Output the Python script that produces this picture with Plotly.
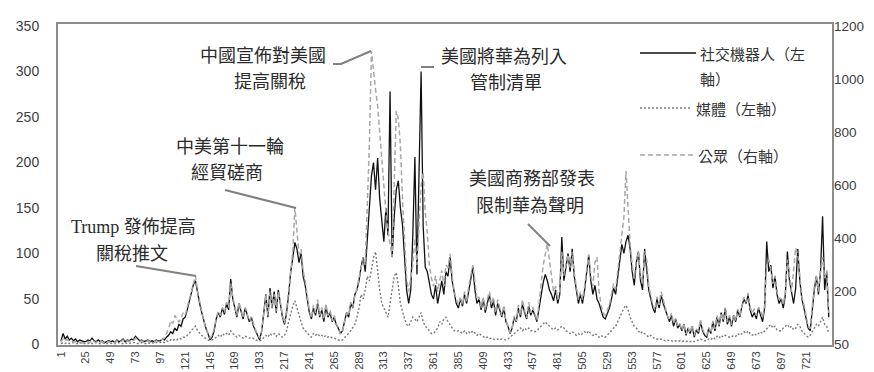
import plotly.graph_objects as go

days = list(range(1, 744, 2))  # day index 1..743
x_ticks = list(range(1, 722, 24))

bots = [
    4,12,6,9,5,7,4,6,3,5,4,3,
    3,5,4,7,4,3,5,3,4,2,3,4,
    3,4,2,5,3,4,6,3,5,4,6,5,
    9,6,4,5,3,4,5,3,4,3,5,4,
    4,6,5,8,10,14,12,18,15,22,20,28,
    30,38,48,58,66,70,55,45,35,25,18,12,
    5,8,15,28,35,30,40,33,45,38,72,50,
    40,30,45,35,28,40,32,25,30,20,15,10,
    5,15,35,55,30,62,40,58,35,60,45,30,
    22,35,55,80,95,112,105,90,100,75,65,50,
    35,28,40,32,45,30,38,25,42,30,35,25,
    30,22,18,12,15,25,35,30,45,40,55,60,
    70,85,96,80,110,150,185,200,170,205,160,140,
    113,150,120,278,96,140,170,180,150,132,90,60,
    45,60,120,206,77,180,300,130,85,80,65,55,
    50,65,45,60,70,55,80,75,96,70,55,45,
    40,50,42,55,45,60,70,85,60,45,50,38,
    50,35,45,55,40,48,32,45,38,30,40,25,
    20,12,18,30,25,40,30,45,35,28,42,32,
    38,30,25,40,55,68,77,70,60,55,48,60,
    45,55,118,70,85,100,80,105,75,60,45,55,
    45,60,80,98,70,55,65,50,45,38,30,28,
    35,40,50,62,55,75,95,110,100,113,120,105,
    80,65,90,102,70,60,105,80,60,50,40,35,
    50,40,54,45,38,30,25,32,20,28,18,22,
    15,22,10,18,12,20,8,16,12,25,15,10,
    8,18,12,25,15,30,20,35,25,40,22,30,
    20,32,25,38,30,42,50,45,54,38,30,35,
    28,40,32,25,40,113,80,87,62,75,55,45,
    50,40,54,102,70,55,45,62,105,70,50,40,
    30,18,15,40,60,75,55,80,141,60,80,30,
]

media = [
    1,2,1,2,1,1,2,1,1,2,1,1,
    1,1,2,1,1,2,1,1,1,2,1,1,
    1,2,1,1,2,1,1,2,1,1,2,2,
    2,1,1,2,1,1,2,1,2,1,2,2,
    2,3,2,4,3,5,4,6,5,7,6,8,
    8,10,12,15,18,20,15,12,10,8,6,5,
    4,5,6,8,10,8,12,10,12,10,15,12,
    10,8,10,8,7,9,8,7,8,6,5,4,
    4,5,8,10,8,12,10,12,9,12,10,8,
    10,15,25,35,42,48,40,30,25,18,15,12,
    10,8,12,10,12,9,10,8,10,8,9,7,
    7,6,5,4,5,8,10,12,15,18,22,30,
    40,55,50,60,75,70,85,95,102,80,60,45,
    40,35,30,45,60,75,79,65,45,35,28,22,
    20,25,30,28,25,30,35,25,20,18,15,12,
    12,15,18,25,22,28,30,25,22,18,15,14,
    15,14,12,15,12,14,12,15,12,10,12,10,
    8,7,8,6,7,6,5,6,5,6,5,5,
    6,8,10,12,14,16,18,15,18,16,18,15,
    15,14,15,18,20,22,25,22,20,18,16,18,
    16,18,20,18,15,14,12,14,12,10,12,10,
    12,14,12,15,12,10,12,10,8,10,8,8,
    10,12,15,18,20,25,30,35,40,43,38,30,
    25,20,18,15,12,14,12,10,8,10,8,6,
    6,5,6,5,4,5,4,4,3,4,3,4,
    3,4,3,4,3,4,3,4,5,6,5,4,
    4,6,5,8,6,9,7,10,8,10,9,8,
    8,10,9,12,10,12,14,12,15,12,10,12,
    10,12,14,12,15,18,20,22,18,20,16,15,
    15,18,20,22,18,20,16,18,22,20,15,12,
    10,8,10,14,18,22,20,25,30,22,20,12,
]

public = [
    10,25,15,20,12,15,10,12,8,10,8,6,
    8,12,10,18,12,8,15,10,12,6,10,12,
    8,12,6,15,10,12,18,10,15,12,18,15,
    25,18,12,15,10,12,15,10,12,10,15,12,
    15,20,25,45,60,90,80,110,95,85,100,120,
    110,140,170,200,235,260,200,160,120,90,60,45,
    25,35,60,100,125,110,140,120,160,140,230,180,
    140,110,160,130,100,140,115,90,105,75,55,40,
    25,55,120,190,110,200,140,190,125,200,160,110,
    80,130,200,280,350,515,430,340,360,280,240,190,
    130,100,150,120,170,110,140,95,155,110,130,90,
    110,80,60,40,50,85,120,110,160,140,190,210,
    250,300,330,300,500,750,1105,1020,960,900,800,700,
    580,500,430,380,330,600,880,850,750,550,400,250,
    200,250,300,400,300,450,600,650,500,420,300,250,
    220,260,200,240,280,220,300,290,342,260,200,170,
    150,180,150,200,160,220,260,300,240,170,180,140,
    180,130,170,200,150,180,120,170,140,110,150,90,
    70,45,65,110,90,150,110,170,130,100,160,120,
    140,110,90,160,230,300,340,380,320,250,200,220,
    170,200,350,260,300,340,290,350,270,220,170,200,
    170,220,280,340,260,220,310,330,200,150,120,110,
    130,150,190,230,210,280,350,420,480,654,500,380,
    300,250,320,350,260,230,353,320,220,180,150,130,
    180,150,200,170,140,110,95,120,80,100,70,80,
    55,80,40,65,45,75,35,60,50,95,60,40,
    35,65,45,90,60,110,75,120,90,140,85,110,
    75,115,90,135,110,150,180,160,195,140,120,135,
    110,140,130,100,150,300,320,280,230,260,200,170,
    180,150,200,320,250,200,280,365,340,250,180,150,
    110,70,60,150,220,260,200,280,330,250,280,120,
]

left_ticks = [0, 50, 100, 150, 200, 250, 300, 350]
right_tickvals = [0, 200, 400, 600, 800, 1000, 1200]
right_ticktext = ["50", "200", "400", "600", "800", "1000", "1200"]

series_names = ["社交機器人（左軸）", "媒體（左軸）", "公眾（右軸）"]

events = [
    ["Trump 發佈提高", "關稅推文"],
    ["中美第十一輪", "經貿磋商"],
    ["中國宣佈對美國", "提高關稅"],
    ["美國將華為列入", "管制清單"],
    ["美國商務部發表", "限制華為聲明"],
]

# ---------------- layout helpers ----------------
W, H = 874, 372
L, R, T, B = 50, 50, 16, 35
PW, PH = W - L - R, H - T - B


def px(x):
    return (x - L) / PW


def py(y):
    return (H - B - y) / PH


fig = go.Figure()
fig.add_trace(go.Scatter(x=days, y=bots, mode="lines", name=series_names[0],
                         line=dict(color="#111111", width=1.3)))
fig.add_trace(go.Scatter(x=days, y=media, mode="lines", name=series_names[1],
                         line=dict(color="#7a7a7a", width=1.4, dash="2px,2px")))
fig.add_trace(go.Scatter(x=days, y=public, mode="lines", name=series_names[2], yaxis="y2",
                         line=dict(color="#a8a8a8", width=1.5, dash="5px,3px")))

tickfont = dict(family="Liberation Sans, Arial, sans-serif", size=14, color="#404040")
fig.update_layout(
    width=W, height=H,
    margin=dict(l=L, r=R, t=T, b=B, pad=0, autoexpand=False),
    paper_bgcolor="white", plot_bgcolor="white",
    showlegend=False,
    xaxis=dict(range=[-1.9, 746.1], tickmode="array", tickvals=x_ticks,
               ticktext=[str(v) for v in x_ticks], tickangle=-90, automargin=False,
               tickfont=dict(family="Liberation Sans, Arial, sans-serif", size=11, color="#404040"),
               showgrid=False, zeroline=False, showline=True, mirror=True,
               linecolor="#8c8c8c", linewidth=2, ticks="", ticklabelstandoff=0),
    yaxis=dict(range=[-0.6, 352.2], tickmode="array", tickvals=left_ticks, automargin=False,
               tickfont=tickfont, showgrid=False, zeroline=False, showline=True, mirror=True,
               linecolor="#8c8c8c", linewidth=2, ticks="", ticklabelstandoff=14),
    yaxis2=dict(range=[-1, 1207], overlaying="y", side="right", tickmode="array",
                tickvals=right_tickvals, ticktext=right_ticktext, automargin=False,
                tickfont=dict(family="Liberation Sans, Arial, sans-serif", size=13.5, color="#404040"),
                showgrid=False, zeroline=False, showline=False, ticks="", ticklabelstandoff=1),
)

ann_font = dict(family="Liberation Serif, Noto Sans CJK TC, serif", size=18, color="#2b2b2b")
ann_pos = [
    [(125, 219), (124, 246)],
    [(222, 139), (219, 165)],
    [(255, 48), (262, 74)],
    [(496, 49), (498, 75)],
    [(524, 171), (522, 198)],
]
for lines, pos in zip(events, ann_pos):
    for text, (xx, yy) in zip(lines, pos):
        fig.add_annotation(x=px(xx), y=py(yy), xref="paper", yref="paper", text=text,
                           showarrow=False, xanchor="center", yanchor="middle", font=ann_font)

connectors = [
    [(128, 258), (188, 268)],
    [(217, 182), (288, 200)],
    [(325, 56), (333, 56), (363, 43)],
    [(413, 59), (426, 59)],
    [(520, 216), (542, 238)],
]
for pts in connectors:
    path = "M " + " L ".join(f"{px(a):.5f},{py(b):.5f}" for a, b in pts)
    fig.add_shape(type="path", path=path, xref="paper", yref="paper",
                  line=dict(color="#808080", width=2))

# legend drawn manually
leg_font = dict(family="Noto Sans CJK TC, sans-serif", size=15, color="#333333")
fig.add_shape(type="line", xref="paper", yref="paper", x0=px(632), x1=px(688), y0=py(45), y1=py(45),
              line=dict(color="#111111", width=1.3))
fig.add_shape(type="line", xref="paper", yref="paper", x0=px(632), x1=px(683), y0=py(100), y1=py(100),
              line=dict(color="#7a7a7a", width=1.4, dash="2px,2px"))
fig.add_shape(type="line", xref="paper", yref="paper", x0=px(632), x1=px(688), y0=py(147), y1=py(147),
              line=dict(color="#a8a8a8", width=1.5, dash="5px,3px"))
legend_texts = [("社交機器人（左", 690, 45), ("軸）", 690, 70), ("媒體（左軸）", 686, 100), ("公眾（右軸）", 688, 147)]
for text, xx, yy in legend_texts:
    fig.add_annotation(x=px(xx), y=py(yy), xref="paper", yref="paper", text=text, showarrow=False,
                       xanchor="left", yanchor="middle", font=leg_font)

fig.write_html("out.html")
